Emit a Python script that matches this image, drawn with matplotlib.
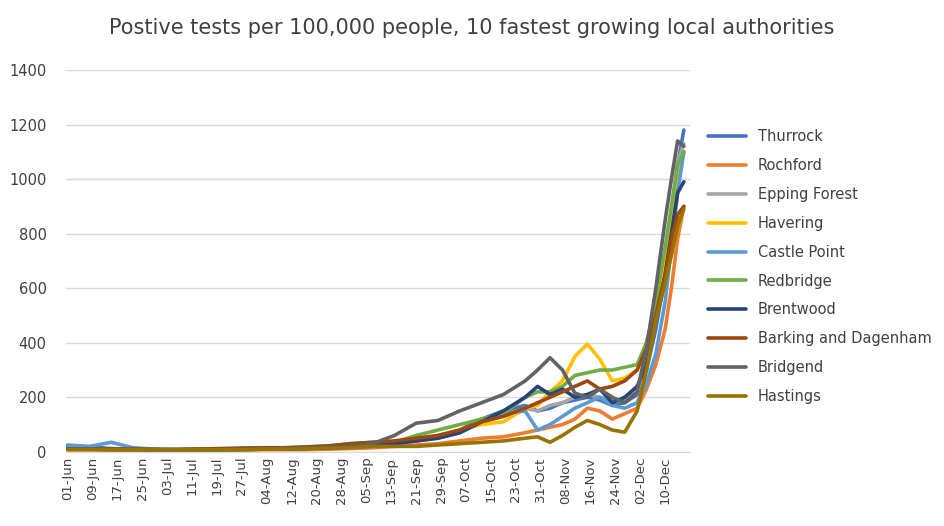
import matplotlib
matplotlib.use("Agg")
import matplotlib.pyplot as plt
import pandas as pd

day_offsets = [0,7,14,21,28,35,42,49,56,63,70,77,84,91,98,
               105,112,119,126,133,140,147,151,155,159,163,167,171,175,179,183,186,189,192,194,196,198]
start = pd.Timestamp("2020-06-01")

E = [10,10,9,9,8,8,8,8,9,10,10,12,15,18,25]
series = {
 "Thurrock": [20,18,12,10,8,8,8,8,8,10,10,12,15,20,25]+[35,45,55,80,120,150,170,150,160,180,190,200,190,170,180,210,300,450,650,850,1050,1180],
 "Rochford": [8,8,6,6,6,6,6,6,6,8,8,8,10,12,15]+[20,25,30,40,50,55,70,80,90,100,120,160,150,120,140,160,230,320,450,600,780,900],
 "Epping Forest": E+[30,40,55,80,110,130,160,150,170,180,200,210,200,190,190,220,320,480,680,880,1060,1130],
 "Havering": [8,8,8,8,6,6,6,8,8,10,10,12,15,18,25]+[35,45,60,80,100,110,160,170,220,260,350,395,340,260,270,300,400,530,700,850,1000,1100],
 "Castle Point": [25,20,35,15,10,8,8,8,8,10,10,12,15,20,25]+[30,40,50,70,110,140,150,80,100,130,160,180,200,170,160,180,250,360,550,750,950,1100],
 "Redbridge": [10,10,10,10,8,8,10,10,12,14,15,18,22,30,35]+[35,60,80,100,120,140,200,220,220,240,280,290,300,300,310,320,400,550,750,900,1050,1100],
 "Brentwood": E+[30,40,50,70,110,150,200,240,210,230,200,210,230,180,200,240,320,480,650,800,950,990],
 "Barking and Dagenham": [10,10,10,10,8,8,10,12,14,15,15,18,22,30,35]+[40,50,60,80,110,130,160,180,200,220,240,260,230,240,260,300,380,500,650,780,870,900],
 "Bridgend": [10,10,8,8,8,8,8,8,10,12,12,15,15,20,30]+[60,105,115,150,180,210,260,300,345,300,215,200,230,200,180,220,380,600,850,1000,1140,1120],
 "Hastings": [8,8,8,8,8,8,8,8,8,10,10,12,12,15,20]+[20,20,25,30,35,40,50,55,35,60,90,115,100,80,72,150,300,480,620,720,830,890],
}
colors = ["#4472C4","#ED7D31","#A5A5A5","#FFC000","#5B9BD5","#70AD47","#264478","#9E480E","#636363","#997300"]

fig = plt.figure(figsize=(9.44,5.26), dpi=100)
ax = fig.add_axes([0.07,0.141,0.661,0.726])
for (name, vals), c in zip(series.items(), colors):
    ax.plot(day_offsets, vals, color=c, lw=2.6, label=name, solid_capstyle="round")

tick_days = list(range(0,193,8))
ax.set_xticks(tick_days)
ax.set_xticklabels([(start+pd.Timedelta(days=d)).strftime("%d-%b") for d in tick_days], rotation=90, fontsize=9.5, color="#404040")
ax.set_xlim(-0.5,200)
ax.set_ylim(0,1400)
ax.set_yticks(range(0,1401,200))
ax.tick_params(axis="y", labelsize=10.5, colors="#404040", length=0, pad=14)
ax.tick_params(axis="x", length=0)
ax.grid(axis="y", color="#D9D9D9", lw=1)
ax.set_axisbelow(True)
for s in ["top","right","left"]:
    ax.spines[s].set_visible(False)
ax.spines["bottom"].set_color("#D9D9D9")
fig.suptitle("Postive tests per 100,000 people, 10 fastest growing local authorities", fontsize=15, color="#404040", y=0.965, x=0.5)
ax.legend(loc="upper left", bbox_to_anchor=(1.02,0.86), frameon=False, fontsize=10.5, labelspacing=0.95, handlelength=2.6, labelcolor="#404040", borderaxespad=0)
fig.savefig("out.png", dpi=100)
